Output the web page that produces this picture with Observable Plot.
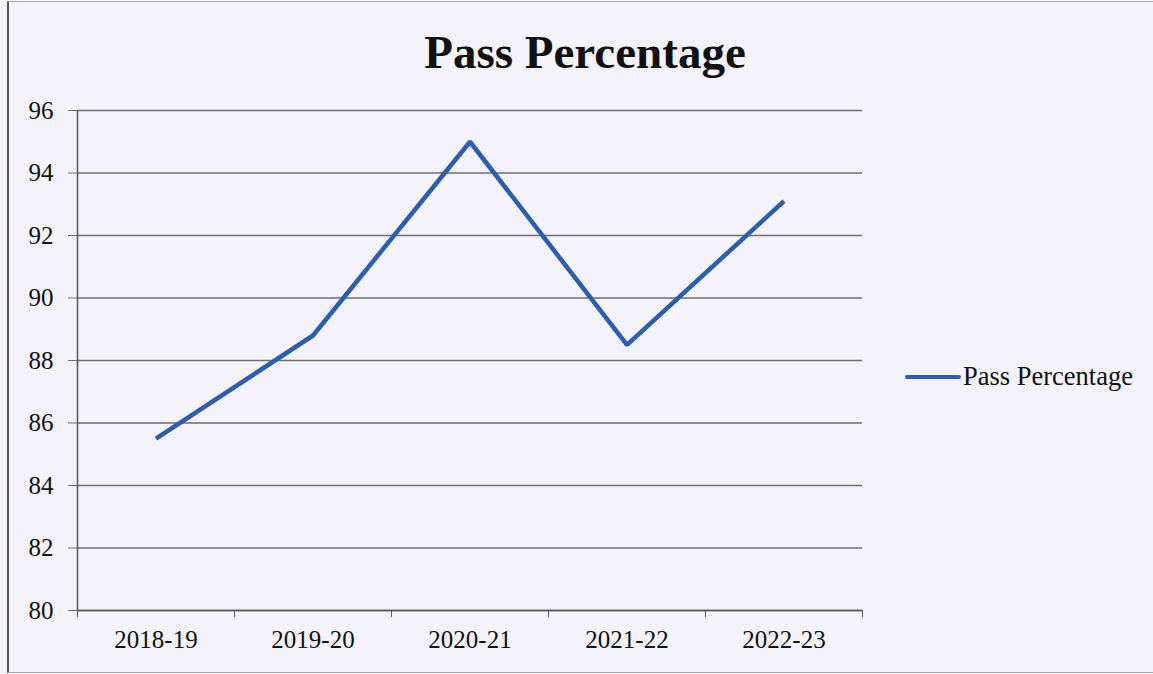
<!DOCTYPE html>
<html>
<head>
<meta charset="utf-8">
<script src="https://cdn.jsdelivr.net/npm/d3@7"></script>
<script src="https://cdn.jsdelivr.net/npm/@observablehq/plot@0.6"></script>
<style>
  html, body { margin: 0; padding: 0; background: #f4f3fb; }
  #wrap { position: relative; width: 1153px; height: 674px; overflow: hidden; background: #f4f3fb;
          font-family: "Liberation Serif", "Times New Roman", serif; }
  #border { position: absolute; left: 7px; top: 1px; width: 1160px; height: 670px;
            border-left: 2px solid #555; border-top: 1px solid #aaa; border-bottom: 1px solid #aaa; }
  #title { position: absolute; left: 0; top: 0; width: 1170px; height: 90px; text-align: center;
           font-size: 47px; font-weight: bold; line-height: 104px; color: #111; }
  #chart { position: absolute; left: 0; top: 90px; }
  #chart svg, #chart svg text { font-family: "Liberation Serif", "Times New Roman", serif !important; font-size: 25px !important; }
  #legend { position: absolute; left: 905px; top: 361px; display: flex; align-items: center;
            font-size: 26.5px; color: #111; }
  #legend .sw { width: 56px; height: 4px; background: #2b5eae; border-radius: 2px; margin-right: 2px; }
</style>
</head>
<body>
<div id="wrap">
  <div id="border"></div>
  <div id="title">Pass Percentage</div>
  <div id="chart"></div>
  <div id="legend"><span class="sw"></span><span>Pass Percentage</span></div>
</div>
<script>
const categories = ["2018-19", "2019-20", "2020-21", "2021-22", "2022-23"];
const passPercentage = [85.5, 88.8, 95.0, 88.5, 93.1];
const yTicks = [80, 82, 84, 86, 88, 90, 92, 94, 96];

const data = categories.map((c, i) => ({i, category: c, value: passPercentage[i]}));
const centres = categories.map((c, i) => i);
const boundaries = [...categories.map((c, i) => i - 0.5), categories.length - 0.5];

const chart = Plot.plot({
  width: 1153,
  height: 584,
  marginTop: 20,
  marginBottom: 64,
  marginLeft: 77,
  marginRight: 291,
  style: {background: "transparent", fontFamily: "'Liberation Serif', 'Times New Roman', serif", fontSize: "25px", color: "#111"},
  x: {type: "linear", domain: [-0.5, categories.length - 0.5]},
  y: {domain: [80, 96]},
  marks: [
    Plot.gridY(yTicks, {stroke: "#6e6e6e", strokeOpacity: 1, strokeWidth: 1.3}),
    Plot.axisY({ticks: yTicks, tickSize: 9, tickPadding: 15, stroke: "#6e6e6e", label: null, fill: "#111", fontSize: 25}),
    Plot.axisX({ticks: boundaries, tickSize: 7, tickFormat: () => "", stroke: "#555", label: null}),
    Plot.axisX({ticks: centres, tickSize: 0, tickPadding: 20, tickFormat: i => categories[i], label: null, fill: "#111", fontSize: 25}),
    Plot.ruleX([-0.5], {stroke: "#555", strokeWidth: 1.5}),
    Plot.ruleY([80], {stroke: "#555", strokeWidth: 1.5}),
    Plot.line(data, {x: "i", y: "value", stroke: "#2b5eae", strokeWidth: 4.5, strokeLinejoin: "miter", strokeLinecap: "butt"})
  ]
});
document.getElementById("chart").appendChild(chart);
</script>
</body>
</html>
